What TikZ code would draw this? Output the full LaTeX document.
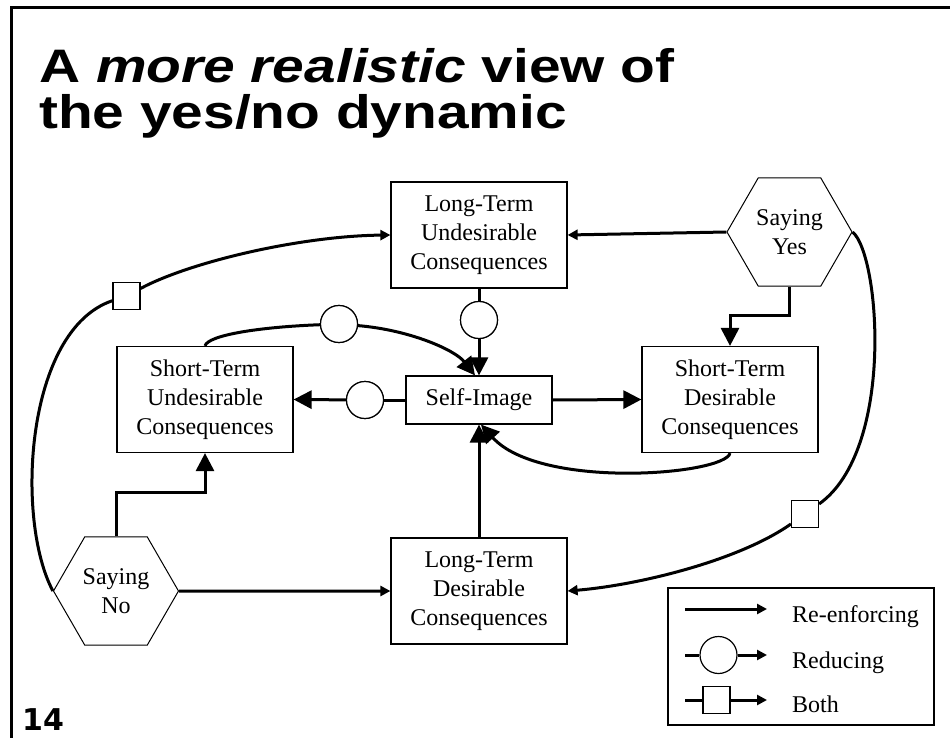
\documentclass[tikz,border=0pt]{standalone}
\usepackage{fontspec}
\usepackage{graphicx}
\setmainfont{Liberation Serif}
\newfontfamily\titlefont{Liberation Sans}[FakeStretch=1.21]
\newfontfamily\numfont{DejaVu Sans}
\usetikzlibrary{arrows.meta,shapes.geometric}
\tikzset{
  box/.style={draw, line width=1.2pt, fill=white, align=center, inner sep=0pt,
    font=\fontsize{24}{29}\selectfont, minimum width=176pt, minimum height=106pt},
  hexa/.style={draw, line width=1pt, fill=white, regular polygon, regular polygon sides=6,
    minimum size=125pt, inner sep=0pt, align=center, font=\fontsize{24}{29}\selectfont},
  conn/.style={line width=3pt},
  bigtip/.style={-{Triangle[length=18pt,width=18pt]}},
  smalltip/.style={-{Triangle[length=10pt,width=10pt]}},
  circ/.style={circle, draw, fill=white, line width=1.2pt, minimum size=37pt, inner sep=0pt},
  sqr/.style={rectangle, draw, fill=white, line width=1.2pt, minimum size=27pt, inner sep=0pt},
  legtext/.style={anchor=base west, inner sep=0pt, font=\fontsize{24}{29}\selectfont},
  titletext/.style={anchor=base west, inner sep=0pt, font=\titlefont\bfseries\fontsize{47}{47}\selectfont},
}
\begin{document}
\begin{tikzpicture}[x=1pt,y=-1pt]
\useasboundingbox (0,0) rectangle (950,738);
% frame
\coordinate (fa) at (11,738);
\coordinate (fb) at (11,8);
\coordinate (fc) at (950,8);
\draw[line width=3pt] (fa) -- (fb) -- (fc);
% title
\node[titletext] (t1) at (39,83) {A \textit{more realistic} view of};
\node[titletext] (t2) at (39,129) {the yes/no dynamic};
\node[anchor=base west, inner sep=0pt, font=\numfont\bfseries\fontsize{30}{30}\selectfont] (pg) at (22,730) {14};
% nodes
\node[box] (ltu) at (479,235) {Long-Term\\Undesirable\\Consequences};
\node[box] (stu) at (205,399.5) {Short-Term\\Undesirable\\Consequences};
\node[box, minimum width=146pt, minimum height=48pt] (si) at (479,400) {Self-Image};
\node[box] (std) at (730,399.5) {Short-Term\\Desirable\\Consequences};
\node[box] (ltd) at (479,591) {Long-Term\\Desirable\\Consequences};
\node[hexa] (yes) at (789.5,232) {Saying\\Yes};
\node[hexa] (no) at (116,591) {Saying\\No};
% markers
\node[circ] (c1) at (365,400) {};
\node[circ] (c2) at (479,320) {};
\node[circ] (c3) at (339,324) {};
\node[sqr] (s1) at (126.5,296) {};
\node[sqr] (s2) at (805,514) {};
% connectors
\draw[conn,smalltip] (yes.west) -- (ltu.east);
\draw[conn,bigtip] (yes.south) -- ++(0,29) -| (std.north);
\draw[conn] (ltu.south) -- (c2);
\draw[conn,bigtip] (c2) -- (si.north);
\draw[conn] (stu.north) .. controls (208,335) and (260,327) .. (c3);
\draw[conn,bigtip] (c3) .. controls (410,330) and (455,350) .. ([xshift=-4pt]si.north);
\draw[conn] (si.west) -- (c1);
\draw[conn,bigtip] (c1) -- (stu.east);
\draw[conn,bigtip] (si.east) -- (std.west);
\draw[conn,bigtip] (std.south) .. controls (725,475) and (540,490) .. ([xshift=2pt]si.south);
\draw[conn,bigtip] (ltd.north) -- (si.south);
\draw[conn,bigtip] (no.north) -- ++(0,-44) -| (stu.south);
\draw[conn,smalltip] (no.east) -- (ltd.west);
\draw[conn] (no.west) .. controls (15,520) and (25,330) .. (s1);
\draw[conn,smalltip] (s1) .. controls (190,262) and (300,236) .. (ltu.west);
\draw[conn] (yes.east) .. controls (880,255) and (895,450) .. (s2);
\draw[conn,smalltip] (s2) .. controls (740,560) and (640,585) .. (ltd.east);
% re-draw markers on top
\node[circ] at (c1) {};
\node[circ] at (c2) {};
\node[circ] at (c3) {};
\node[sqr] at (s1) {};
\node[sqr] at (s2) {};
% legend
\node[draw, line width=1.2pt, minimum width=266pt, minimum height=137pt, inner sep=0pt] (leg) at (801,656.5) {};
\coordinate (la1) at (685,609);
\coordinate (lb1) at (767,609);
\draw[conn,smalltip] (la1) -- (lb1);
\coordinate (la2) at (685,655);
\coordinate (lb2) at (767,655);
\node[circ] (lc) at (718.5,655) {};
\draw[conn] (la2) -- (lc);
\draw[conn,smalltip] (lc) -- (lb2);
\coordinate (la3) at (685,700);
\coordinate (lb3) at (767,700);
\node[sqr] (ls) at (716.5,700) {};
\draw[conn] (la3) -- (ls);
\draw[conn,smalltip] (ls) -- (lb3);
\node[legtext] (lt1) at (792,622) {Re-enforcing};
\node[legtext] (lt2) at (792,668) {Reducing};
\node[legtext] (lt3) at (792,712) {Both};
\end{tikzpicture}
\end{document}
